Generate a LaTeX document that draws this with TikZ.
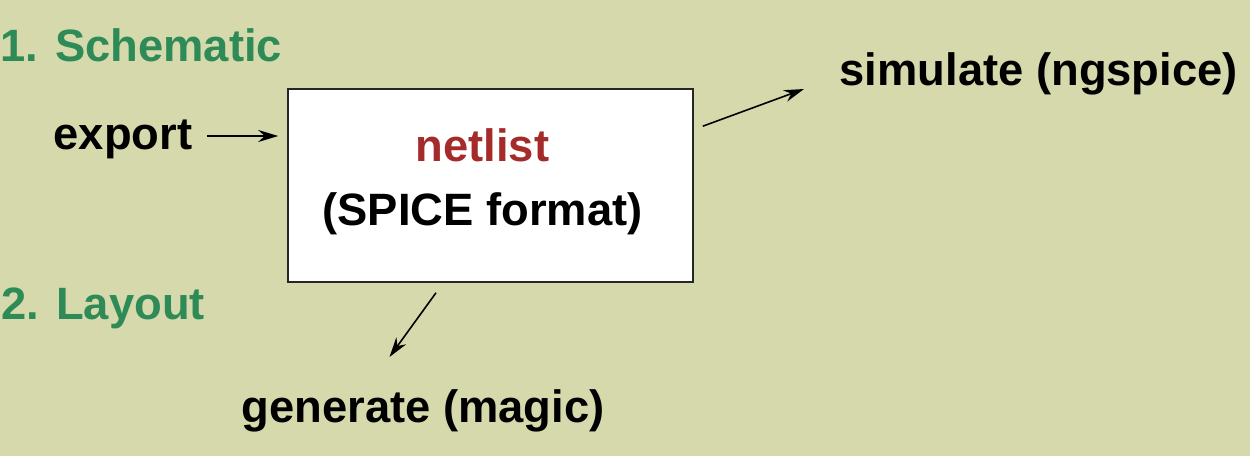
\documentclass[tikz,border=0pt]{standalone}
\usepackage{fontspec}
\setmainfont{Liberation Sans}
\usetikzlibrary{arrows.meta}
\definecolor{bgolive}{RGB}{214,217,171}
\definecolor{stepgreen}{RGB}{46,139,87}
\definecolor{netred}{RGB}{165,42,42}
\tikzstyle{heading} = [inner sep=0pt, anchor=base west, font=\fontsize{12.9}{15}\selectfont\bfseries, text=stepgreen]
\tikzstyle{label} = [inner sep=0pt, anchor=base west, font=\fontsize{12.9}{15}\selectfont\bfseries]
\tikzstyle{netbox} = [rectangle, draw=black!85, line width=0.45pt, fill=white, minimum width=4.05cm, minimum height=1.93cm]
\tikzstyle{boxtext} = [inner sep=0pt, align=center, font=\fontsize{12.9}{18.1}\selectfont\bfseries]
\tikzstyle{arrow} = [line width=0.45pt, -{Stealth[length=0.2cm, width=0.12cm]}]
\begin{document}
\begin{tikzpicture}
            \fill [bgolive] (0,0) rectangle (12.5,4.56);
            \useasboundingbox (0,0) rectangle (12.5,4.56);

            \node [heading] at (0.00,3.94) (schematic) {1. Schematic};
            \node [heading] at (0.01,1.36) (layout) {2. Layout};
            \node [label] at (0.53,3.06) (export) {export};
            \node [netbox] at (4.905,2.705) (box) {};
            \node [boxtext] at ([xshift=-0.08cm, yshift=0.04cm]box.center) (netlist) {{\color{netred}netlist}\\(SPICE format)};
            \node [label] at (8.39,3.70) (simulate) {simulate (ngspice)};
            \node [label] at (2.41,0.34) (generate) {generate (magic)};

            \coordinate (exptail) at ([xshift=0.14cm, yshift=0.14cm]export.base east);
            \draw [arrow, shorten >=0.09cm] (exptail) -- (exptail -| box.west);
            \draw [arrow] ([xshift=0.09cm, yshift=-0.38cm]box.north east) -- ([xshift=-0.35cm, yshift=-0.03cm]simulate.base west);
            \draw [arrow] ([xshift=-0.545cm, yshift=-0.10cm]box.south) -- ([xshift=1.485cm, yshift=0.65cm]generate.base west);
            \end{tikzpicture}
\end{document}
